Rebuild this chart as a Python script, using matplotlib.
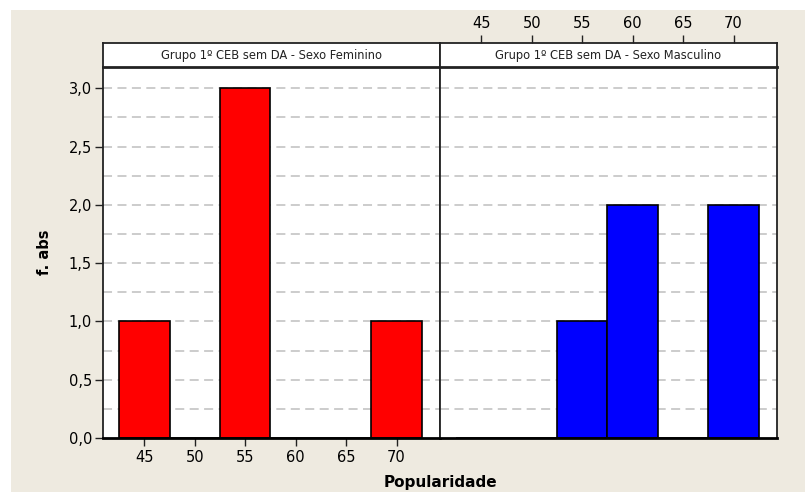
import matplotlib.pyplot as plt
import numpy as np

plt.rcParams['font.family'] = ['DejaVu Sans']

bins = [45, 50, 55, 60, 65, 70]
fem = [1, 0, 3, 0, 0, 1]
masc = [0, 0, 1, 2, 0, 2]
titles = ["Grupo 1º CEB sem DA - Sexo Feminino", "Grupo 1º CEB sem DA - Sexo Masculino"]
yticks = [0.0, 0.5, 1.0, 1.5, 2.0, 2.5, 3.0]
ytick_labels = ["0,0", "0,5", "1,0", "1,5", "2,0", "2,5", "3,0"]

bg = "#EEEAE0"
fig = plt.figure(figsize=(8.05, 4.92), dpi=100)
fig.patch.set_facecolor("white")
# beige panel behind everything (white margin on top/left)
fig.patches.append(plt.Rectangle((11 / 805, 0), 1, 1 - 10 / 492, transform=fig.transFigure,
                                 facecolor=bg, edgecolor="none", zorder=-10))

W = 337 / 805
left = [103 / 805, 440 / 805]
bottom = 1 - 438 / 492
height = (438 - 66.7) / 492
strip_h = 23.4 / 492

xlim = (40.9, 74.3)
ylim = (0, 3.185)

for i, (vals, col) in enumerate([(fem, "#FF0000"), (masc, "#0000FF")]):
    ax = fig.add_axes([left[i], bottom, W, height])
    ax.set_facecolor("white")
    ax.set_xlim(*xlim)
    ax.set_ylim(*ylim)
    for g in np.arange(0.25, 3.01, 0.25):
        ax.axhline(g, color="#C8C8C8", ls=(0, (5, 3)), lw=1.3, zorder=0)
    ax.bar(bins, vals, width=5, color=col, edgecolor="black", linewidth=1.2, zorder=2)
    for s in ax.spines.values():
        s.set_linewidth(1.3)
        s.set_color("#222222")
    ax.spines["bottom"].set_linewidth(2)
    ax.spines["bottom"].set_color("black")

    if i == 0:
        ax.set_xticks(bins)
        ax.tick_params(axis="x", length=6, width=1, labelsize=10.5, pad=3, color="#222222")
        ax.set_yticks(yticks)
        ax.set_yticklabels(ytick_labels)
        ax.tick_params(axis="y", length=6, width=1, labelsize=10.5, pad=2, color="#222222")
        ax.set_ylabel("f. abs", fontsize=10.5, fontweight="bold", labelpad=12)
    else:
        ax.set_xticks([])
        ax.set_yticks([])

    sx = fig.add_axes([left[i], bottom + height, W, strip_h])
    sx.set_facecolor("white")
    sx.set_xlim(*xlim)
    sx.set_ylim(0, 1)
    sx.set_yticks([])
    for s in sx.spines.values():
        s.set_linewidth(1.3)
        s.set_color("#222222")
    sx.spines["bottom"].set_linewidth(2)
    sx.text(0.5, 0.48, titles[i], transform=sx.transAxes, ha="center", va="center",
            fontsize=8.3, color="#222222")
    if i == 1:
        sx.xaxis.tick_top()
        sx.set_xticks(bins)
        sx.tick_params(axis="x", length=6, width=1, labelsize=10.5, pad=3, color="#222222")
    else:
        sx.set_xticks([])

fig.text(440 / 805, 1 - 482 / 492, "Popularidade", ha="center", va="center",
         fontsize=11, fontweight="bold")

fig.savefig("out.png", dpi=100, facecolor=fig.get_facecolor())
